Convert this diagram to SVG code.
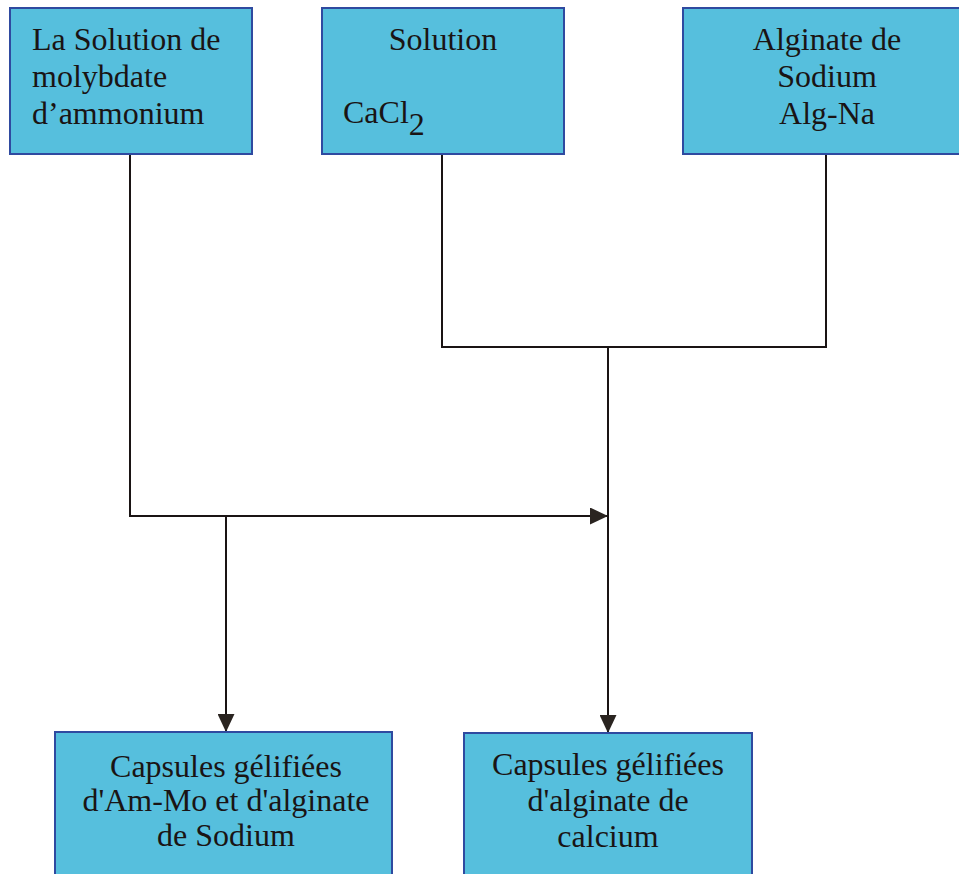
<svg xmlns="http://www.w3.org/2000/svg" width="959" height="874" viewBox="0 0 959 874">
<defs>
<marker id="arr" markerWidth="18" markerHeight="17" refX="18" refY="8.5" orient="auto" markerUnits="userSpaceOnUse">
<path d="M0,0 L18,8.5 L0,17 Z" fill="#2a2420"/>
</marker>
</defs>
<style>
.box{fill:#56bfdd;stroke:#2f4aa0;stroke-width:2}
.t{font-family:"Liberation Serif","Times New Roman",serif;font-size:32px;fill:#1a1414}
.c{text-anchor:middle}
.ln{fill:none;stroke:#1a1414;stroke-width:2}
</style>
<rect width="959" height="874" fill="#ffffff"/>
<g id="connectors">
<polyline class="ln" points="130,154 130,516 608,516" marker-end="url(#arr)"/>
<polyline class="ln" points="442,154 442,347 826,347 826,154"/>
<line class="ln" x1="608" y1="347" x2="608" y2="733" marker-end="url(#arr)"/>
<line class="ln" x1="226" y1="516" x2="226" y2="732" marker-end="url(#arr)"/>
</g>
<g id="n1">
<rect class="box" x="10" y="8" width="242" height="146"/>
<text class="t" x="32" y="50">La Solution de</text>
<text class="t" x="32" y="87">molybdate</text>
<text class="t" x="32" y="124">d’ammonium</text>
</g>
<g id="n2">
<rect class="box" x="322" y="8" width="242" height="146"/>
<text class="t c" x="443" y="50">Solution</text>
<text class="t" x="343" y="123">CaCl<tspan dy="12">2</tspan></text>
</g>
<g id="n3">
<rect class="box" x="683" y="8" width="290" height="146"/>
<text class="t c" x="827" y="50">Alginate de</text>
<text class="t c" x="827" y="87">Sodium</text>
<text class="t c" x="827" y="124">Alg-Na</text>
</g>
<g id="n4">
<rect class="box" x="55" y="732" width="337" height="160"/>
<text class="t c" x="226" y="777">Capsules gélifiées</text>
<text class="t c" x="226" y="811">d'Am-Mo et d'alginate</text>
<text class="t c" x="226" y="846">de Sodium</text>
</g>
<g id="n5">
<rect class="box" x="464" y="733" width="288" height="160"/>
<text class="t c" x="608" y="775">Capsules gélifiées</text>
<text class="t c" x="608" y="811">d'alginate de</text>
<text class="t c" x="608" y="847">calcium</text>
</g>
</svg>
